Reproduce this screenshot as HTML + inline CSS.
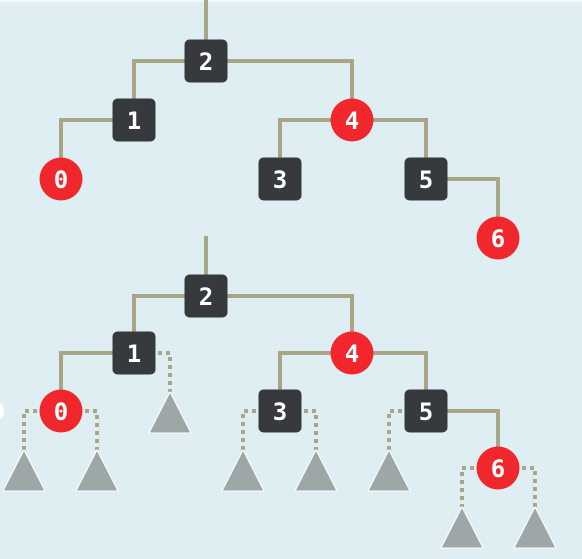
<!DOCTYPE html>
<html><head><meta charset="utf-8"><style>
html,body{margin:0;padding:0;background:#dfeef3;}
svg{display:block}
text{font-family:"DejaVu Sans Mono","Liberation Mono",monospace;font-weight:bold;font-size:24px;fill:#fff;text-anchor:middle;dominant-baseline:central}
</style></head><body>
<svg id="c" width="582" height="559" xmlns="http://www.w3.org/2000/svg">
<rect width="582" height="559" fill="#dfeef3"/>
<rect width="582" height="2" fill="#f2f8fa"/>
<circle cx="-6" cy="411" r="10" fill="#ffffff"/>
</svg>
<script>
const keys=[0,1,2,3,4,5,6];
const colors=['red','black','black','black','red','black','red'];
const parents=[1,2,-1,4,2,4,5];
const topX=[61,134,206,280,352,426,498];
const topY=[179,120,61,179,120,179,238];
const botY=[411,353,296,411,353,411,468];
// NIL leaves in second tree: [parentKey, side]
const nilParents=[0,0,1,3,3,5,6,6];
const nilX=[24,97,170,243,316,389,462,535];
const svg=document.getElementById('c');
const NS='http://www.w3.org/2000/svg';
const edgeC='#a9a686';
function mk(t,a){const e=document.createElementNS(NS,t);for(const k in a)e.setAttribute(k,a[k]);svg.appendChild(e);return e;}
function drawTree(ys,rootTop,name){
  let r=mk('line',{x1:topX[2],y1:rootTop,x2:topX[2],y2:ys[2],stroke:edgeC,'stroke-width':4});
  
  
  keys.forEach((k,i)=>{const p=parents[i];if(p<0)return;
    const e=mk('polyline',{points:`${topX[p]},${ys[p]} ${topX[i]},${ys[p]} ${topX[i]},${ys[i]}`,fill:'none',stroke:edgeC,'stroke-width':4});
    
    
  });
}
function drawNodes(ys,name){
  keys.forEach((k,i)=>{
    let s;
    if(colors[i]==='red')s=mk('circle',{cx:topX[i],cy:ys[i],r:21.5,fill:'#f0282d'});
    else s=mk('rect',{x:topX[i]-21.5,y:ys[i]-21.5,width:43,height:43,rx:5,fill:'#373a3c'});
    
    
    const t=mk('text',{x:topX[i],y:ys[i]+1});t.textContent=k;
    
    
  });
}
drawTree(topY,0,'top-tree');
drawTree(botY,236,'bottom-tree');
// nil edges and triangles
nilParents.forEach((pk,j)=>{
  const pi=keys.indexOf(pk);const px=topX[pi],py=botY[pi];const x=nilX[j];const apex=py+39;
  const e=mk('polyline',{points:`${px},${py} ${x},${py} ${x},${apex}`,fill:'none',stroke:edgeC,'stroke-width':4,'stroke-dasharray':'4 4'});
  
  
  const t=mk('polygon',{points:`${x},${apex} ${x+21},${apex+41} ${x-21},${apex+41}`,fill:'#9da7a8',stroke:'#ffffff','stroke-width':1});
  
  
});
drawNodes(topY,'top-tree');
drawNodes(botY,'bottom-tree');
</script>
</body></html>
